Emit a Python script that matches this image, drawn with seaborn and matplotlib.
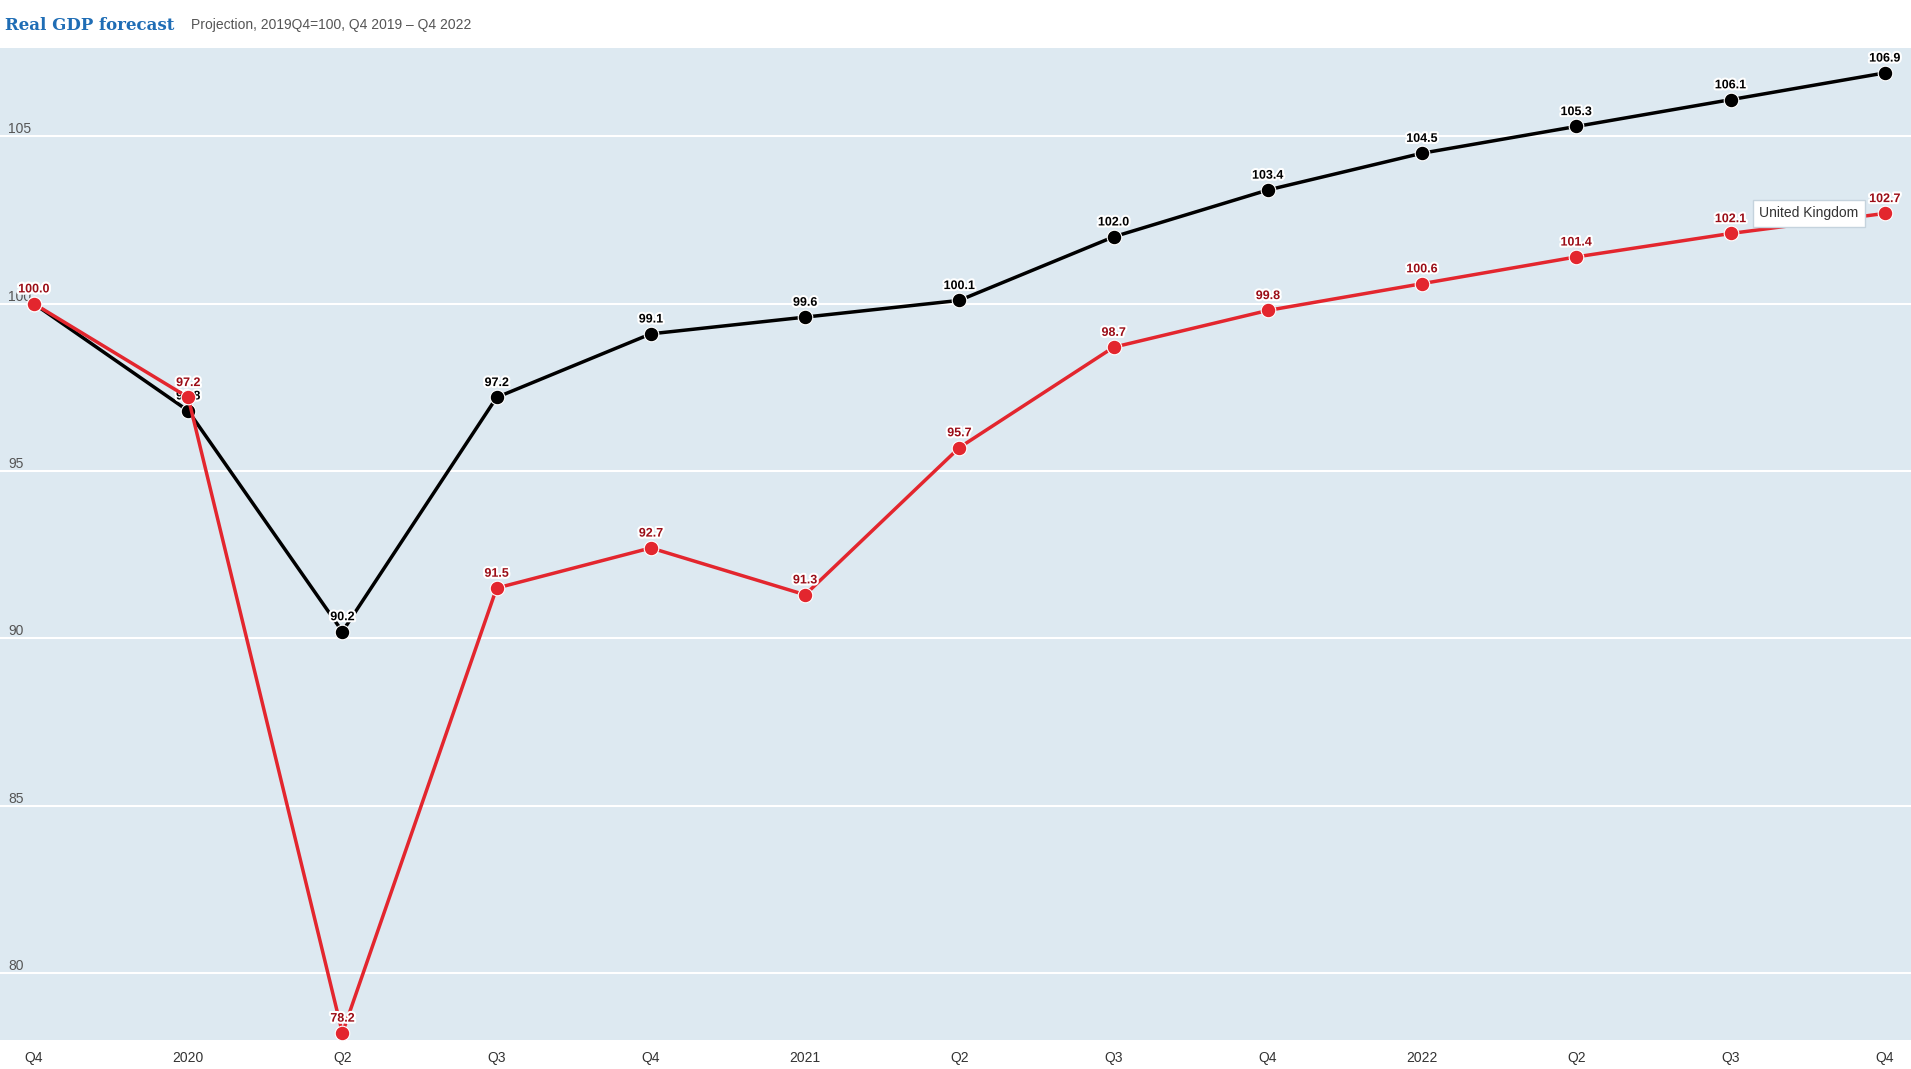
import numpy as np
import pandas as pd
import matplotlib
matplotlib.use("Agg")
import matplotlib.pyplot as plt
import matplotlib.patheffects as pe
import seaborn as sns

# quarters Q4 2019 .. Q4 2022
quarter_labels = ["Q4", "2020", "Q2", "Q3", "Q4", "2021", "Q2", "Q3", "Q4",
                  "2022", "Q2", "Q3", "Q4"]
other_name = "OECD"
uk_name = "United Kingdom"
other_values = [100.0, 96.8, 90.2, 97.2, 99.1, 99.6, 100.1, 102.0, 103.4,
                104.5, 105.3, 106.1, 106.9]
uk_values = [100.0, 97.2, 78.2, 91.5, 92.7, 91.3, 95.7, 98.7, 99.8,
             100.6, 101.4, 102.1, 102.7]
y_ticks = [80, 85, 90, 95, 100, 105]

x = np.arange(len(quarter_labels))
df = pd.DataFrame({
    "x": np.concatenate([x, x]),
    "value": other_values + uk_values,
    "series": [other_name] * len(x) + [uk_name] * len(x),
})

bg = "#dde9f1"
sns.set_style("white", {"axes.facecolor": bg})
plt.rcParams['font.family'] = ['Liberation Sans', 'DejaVu Sans']

fig = plt.figure(figsize=(19.11, 10.69), dpi=100)
ax = fig.add_axes([0, 29 / 1069, 1, 992.5 / 1069])
ax.set_facecolor(bg)

styles = {
    other_name: dict(line="#000000", label="#000000", z=2),
    uk_name: dict(line="#e3262e", label="#9b0d17", z=4),
}

halo = [pe.withStroke(linewidth=3, foreground="white")]

for name in [other_name, uk_name]:
    sub = df[df["series"] == name]
    z = styles[name]["z"]
    sns.lineplot(data=sub, x="x", y="value", ax=ax, color=styles[name]["line"],
                 linewidth=2.5, marker="o", markersize=10.5,
                 markeredgecolor="white", markeredgewidth=0.8, zorder=z,
                 legend=False)
    for xi, v in zip(sub["x"], sub["value"]):
        ax.annotate(f"{v:.1f}", (xi, v), xytext=(0, 6), textcoords="offset points",
                    ha="center", va="bottom", fontsize=9, fontweight="bold",
                    color=styles[name]["label"], path_effects=halo, zorder=z + 0.5)

# tooltip on the last UK point
ax.annotate(uk_name, (x[-1], uk_values[-1]), xytext=(-19, 0),
            textcoords="offset points", ha="right", va="center",
            fontsize=10, color="#333333", zorder=6,
            bbox=dict(boxstyle="square,pad=0.45", fc="white", ec="#c5d3dd", lw=1))

ax.set_xlim(-0.22, 12.17)
ax.set_ylim(77.99, 107.66)

ax.set_xticks(x)
ax.set_xticklabels(quarter_labels)
ax.tick_params(axis="x", direction="in", color="white", length=5, width=1.5,
               pad=8, labelsize=10, labelcolor="#333333")

ax.set_yticks(y_ticks)
ax.set_yticklabels([str(t) for t in y_ticks])
ax.tick_params(axis="y", length=0, pad=-6, labelsize=10, labelcolor="#555555")
for lab in ax.get_yticklabels():
    lab.set_ha("left")
    lab.set_va("bottom")

ax.grid(axis="y", color="white", linewidth=1.5)
ax.grid(axis="x", visible=False)
ax.set_axisbelow(True)
for s in ax.spines.values():
    s.set_visible(False)
ax.set_xlabel("")
ax.set_ylabel("")

fig.text(5 / 1911, 1 - 30 / 1069, "Real GDP forecast", fontsize=12,
         fontweight="bold", color="#1f6db5", family=["DejaVu Serif"],
         ha="left", va="baseline")
fig.text(191 / 1911, 1 - 29 / 1069, "Projection, 2019Q4=100, Q4 2019 \u2013 Q4 2022",
         fontsize=10, color="#555555", ha="left", va="baseline")

fig.savefig("out.png", dpi=100, facecolor="white")
